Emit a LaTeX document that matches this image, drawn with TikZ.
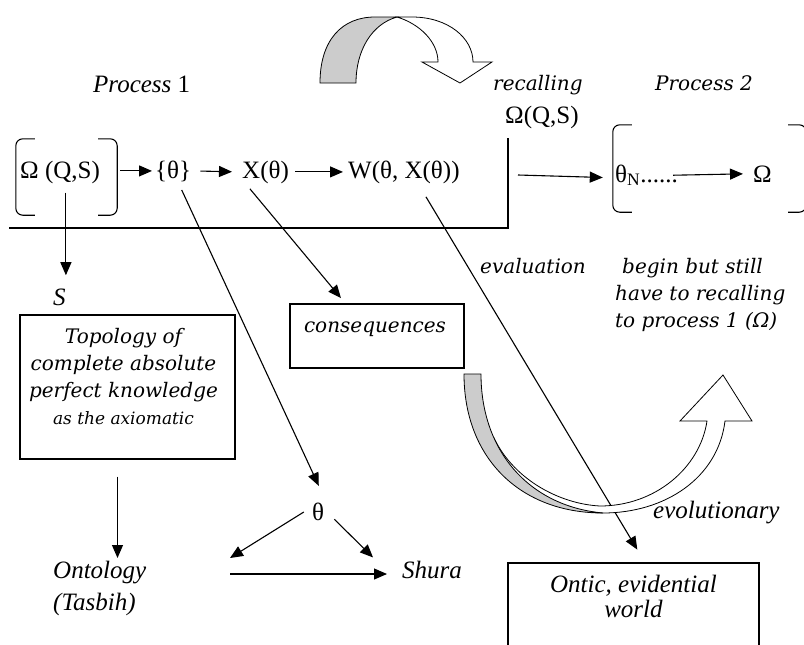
\documentclass[tikz,border=0pt]{standalone}
\usepackage{fontspec}
\setmainfont{Liberation Serif}
\newfontfamily\bookfont{DejaVu Serif}
\usetikzlibrary{arrows.meta}
\usetikzlibrary{positioning}

\tikzset{
  arr/.style={-{Triangle[length=13pt,width=11pt]}, line width=1.1pt},
  lbl/.style={inner sep=0pt, font=\fontsize{25}{32}\selectfont},
  wlbl/.style={inner sep=0pt, font=\bookfont\itshape\fontsize{20}{27}\selectfont},
  frame/.style={draw, line width=1.1pt, rectangle, inner sep=0pt},
  curl/.style={draw, line width=0.8pt},
  brk/.style={line width=1.1pt, rounded corners=7pt},
}

\begin{document}
\begin{tikzpicture}[x=1pt, y=-1pt]
\useasboundingbox (0,0) rectangle (804,645);
\clip (0,0) rectangle (804,645);

% process 1 row
\node[lbl, anchor=base west] (pname1) at (93,92) {\textit{Process} 1};
\node[minimum width=101pt, minimum height=76pt, inner sep=0pt] (pone) at (66.5,177) {};
\draw[brk] ([xshift=19pt]pone.north west) -- (pone.north west) -- (pone.south west) -- ([xshift=19pt]pone.south west);
\draw[brk] ([xshift=-19pt]pone.north east) -- (pone.north east) -- (pone.south east) -- ([xshift=-19pt]pone.south east);
\node[lbl, anchor=base west] (omega) at (20,178) {Ω (Q,S)};
\node[lbl, anchor=base west, inner sep=3pt] (settheta) at (152,178) {\{θ\}};
\node[lbl, anchor=base west, inner sep=3pt] (xtheta) at (239,178) {X(θ)};
\node[lbl, anchor=base west, inner sep=3pt] (wfun) at (345,178) {W(θ, X(θ))};

\draw[arr, shorten <=3pt] (pone.east |- settheta) -- (settheta.west);
\draw[arr, shorten <=6pt, shorten >=7pt] (settheta.east) -- (xtheta.west);
\draw[arr, shorten <=3pt, shorten >=2pt] (xtheta.east) -- (wfun.west);

% recalling and process 2
\node[wlbl, anchor=base west] (recall) at (493,90) {recalling};
\node[lbl, anchor=base west] (recomega) at (505,123) {Ω(Q,S)};
\draw[line width=1.1pt] (9,228) -- (508,228) -- (508,138);

\node[wlbl, anchor=base west] (pname2) at (655,90) {Process 2};
\node[minimum width=193pt, minimum height=87pt, inner sep=0pt] (ptwo) at (709.5,168.5) {};
\draw[brk] ([xshift=19pt]ptwo.north west) -- (ptwo.north west) -- (ptwo.south west) -- ([xshift=19pt]ptwo.south west);
\draw[brk] ([xshift=-18pt]ptwo.north east) -- (ptwo.north east) -- (ptwo.south east) -- ([xshift=-18pt]ptwo.south east);
\node[lbl, anchor=base west] (thetan) at (615,182) {θ\textsubscript{N}......};
\node[lbl, anchor=base west, inner sep=3pt] (omegatwo) at (750,182) {Ω};
\coordinate (rstart) at (518,175);
\draw[arr] (rstart) -- ([xshift=-10pt,yshift=-9pt]ptwo.west);
\draw[arr, shorten <=-5pt, shorten >=7pt] (thetan.east) -- (omegatwo.west);

% S and topology
\node[lbl, anchor=base west] (stext) at (53,305) {\textit{S}};
\draw[arr, shorten <=9pt, shorten >=13pt] (omega.south -| stext.north east) -- (stext.north east);
\node[frame, minimum width=215pt, minimum height=144pt] (topo) at (127.5,387) {};
\node[wlbl, align=center, anchor=north] (topotext) at ([xshift=-4pt,yshift=-14pt]topo.north)
  {Topology of\\complete absolute\\perfect knowledge\\{\fontsize{17}{27}\selectfont as the axiomatic}};

% ontology, theta, shura
\node[lbl, anchor=north west, align=left] (onto) at (53,561) {\textit{Ontology}\\\textit{(Tasbih)}};
\draw[arr, shorten <=17pt, shorten >=3pt] ([xshift=-10pt]topo.south) -- ([xshift=-10pt]topo.south |- onto.north);
\node[lbl, inner sep=8pt] (theta) at (318,512) {θ};
\node[lbl, anchor=base west] (shura) at (402,578) {\textit{Shura}};
\coordinate (junc) at (230,574);
\coordinate (jtip) at (230,558);
\draw[arr, shorten <=6pt, shorten >=10pt] ([xshift=6pt]settheta.south) -- ([xshift=5pt]theta.north);
\draw[arr] (theta.west) -- (jtip);
\draw[arr, shorten <=3pt] (theta.-20) -- ([xshift=-29pt,yshift=3pt]shura.north west);
\draw[arr, shorten >=15pt] (junc) -- (junc -| shura.west);

% consequences
\node[frame, minimum width=174pt, minimum height=64pt] (conseq) at (377,336) {};
\node[wlbl, anchor=base] (conseqtext) at (375,332) {consequences};
\draw[arr, shorten <=3pt, shorten >=7pt] ([xshift=9pt]xtheta.south west) -- ([xshift=56pt]conseq.north west);

% evaluation and ontic world
\node[wlbl, anchor=base west] (evaltext) at (480,273) {evaluation};
\node[wlbl, align=left, anchor=north west] (begintext) at (615,258)
  {\hspace{7pt}begin but still\\have to recalling\\to process 1 (Ω)};
\node[frame, minimum width=251pt, minimum height=104pt] (ontic) at (633.5,615) {};
\node[lbl, align=center, anchor=north, font=\fontsize{25}{25}\selectfont] (ontictext) at ([yshift=-12pt]ontic.north)
  {\textit{Ontic, evidential}\\\textit{world}};
\draw[arr, shorten <=12pt, shorten >=15pt] ([xshift=-43pt]wfun.south east) -- ([xshift=11.5pt]ontic.north);
\node[lbl, anchor=base west] (evotext) at (653,518) {\textit{evolutionary}};

% curved arrow on top
\draw[curl, fill=gray!40] (320,83) .. controls (320,40) and (342,17) .. (375,17) -- (397,17)
  .. controls (372,24) and (356,50) .. (356,83) -- cycle;
\draw[curl, fill=white] (397,17) -- (412,17) .. controls (448,17) and (473,38) .. (473,62)
  -- (492,62) -- (460,83) -- (422,62) -- (438,62) .. controls (438,42) and (420,24) .. (397,17) -- cycle;

% curved arrow below
\draw[curl, fill=white] (495,440) .. controls (505,480) and (545,510) .. (603,513)
  .. controls (665,513) and (718,478) .. (725,421) -- (752,421) -- (723,375) -- (680,421) -- (707,421)
  .. controls (700,468) and (655,506) .. (600,506) .. controls (560,504) and (515,480) .. (495,440) -- cycle;
\draw[curl, fill=gray!40] (464,374) -- (481,374) .. controls (481,450) and (528,506) .. (603,513)
  .. controls (520,513) and (464,458) .. (464,374) -- cycle;
\end{tikzpicture}
\end{document}
